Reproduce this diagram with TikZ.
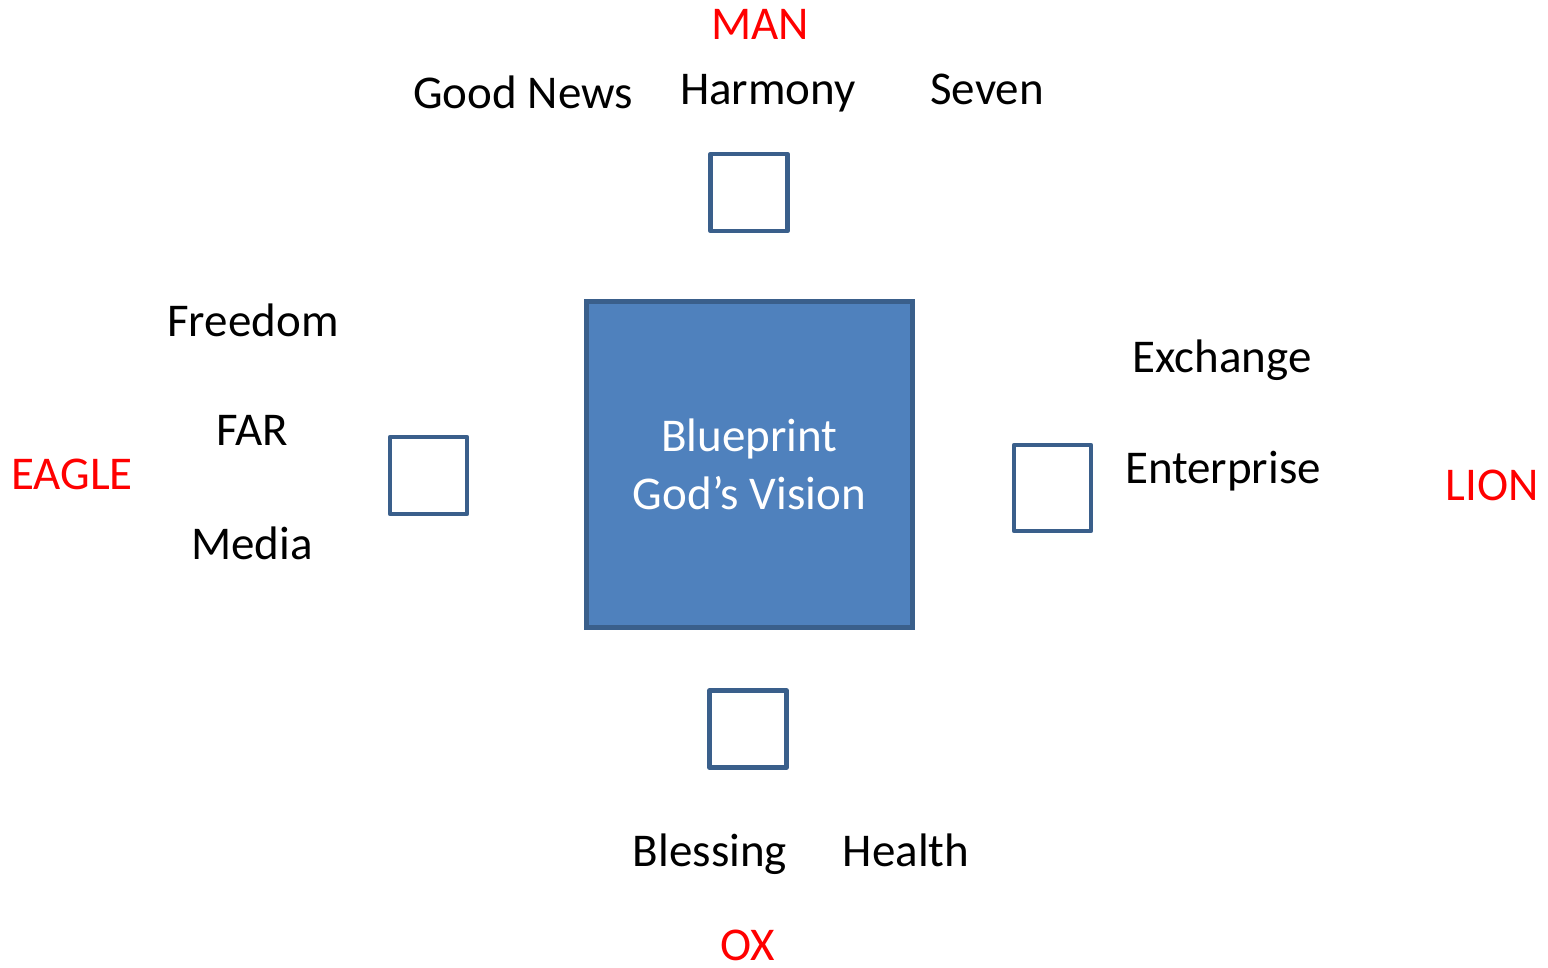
\documentclass[tikz,border=0pt]{standalone}
\usepackage{fontspec}
\setmainfont{Carlito}
\usepackage{tikz}
\definecolor{boxfill}{HTML}{4F81BD}
\definecolor{boxline}{HTML}{3A5F8B}
\tikzset{
    word/.style={black,anchor=base,inner sep=0pt,font=\fontsize{47}{58}\selectfont},
    beast/.style={word,red},
    smallbox/.style={draw=boxline,line width=4.5pt,line join=round,fill=white,inner sep=0pt,minimum width=77pt,minimum height=77pt},
    visionbox/.style={draw=boxline,line width=5pt,fill=boxfill,inner sep=0pt,minimum size=326pt,text=white,align=center,font=\fontsize{47}{58}\selectfont}
}
\begin{document}
\begin{tikzpicture}[x=1pt,y=-1pt]
\useasboundingbox(0,0)rectangle(1548,968);
% centre
\node[visionbox](vision)at(749.5,464.5){Blueprint\\God’s Vision};
% top
\node[beast](man)at(760,40){MAN};
\node[word](goodnews)at(523,109){Good News};
\node[word](harmony)at(768,105){Harmony};
\node[word](seven)at(987,105){Seven};
\node[smallbox](topbox)at(749,192.5){};
% left
\node[word](freedom)at(253,337){Freedom};
\node[word](far)at(252,445){FAR};
\node[beast](eagle)at(72,489){EAGLE};
\node[word](media)at(252,559){Media};
\node[smallbox](leftbox)at(428.5,475.5){};
% right
\node[word](exchange)at(1222,373){Exchange};
\node[word](enterprise)at(1223,483){Enterprise};
\node[beast](lion)at(1492,500){LION};
\node[smallbox,minimum height=86pt](rightbox)at(1052.5,488){};
% bottom
\node[smallbox](bottombox)at(748,729){};
\node[word](blessing)at(710,866){Blessing};
\node[word](health)at(906,866){Health};
\node[beast](ox)at(748,960){OX};
\end{tikzpicture}
\end{document}
